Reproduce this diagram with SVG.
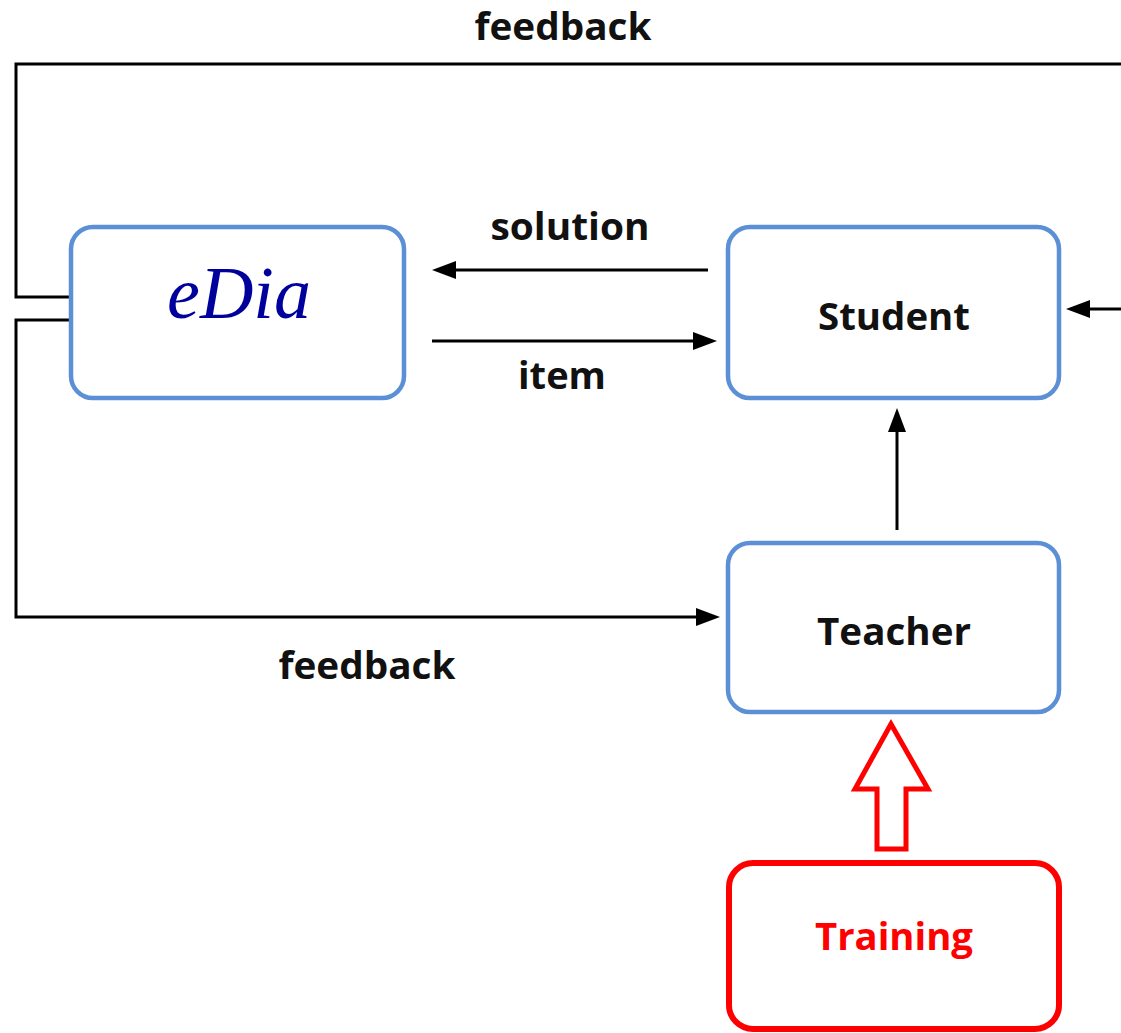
<svg xmlns="http://www.w3.org/2000/svg" width="1121" height="1033" viewBox="0 0 1121 1033">
<style>
.box{fill:#fff;stroke:#5B8FD6;stroke-width:4.5}
.lbl{font-family:"Open Sans","Liberation Sans",sans-serif;font-weight:bold;font-size:37px;fill:#111}
.ln{fill:none;stroke:#000;stroke-width:3}
</style>
<rect width="1121" height="1033" fill="#fff"/>
<g id="connectors">
<polyline class="ln" points="1121,64 16,64 16,297 71,297"/>
<polyline class="ln" points="71,320 16,320 16,617 696,617"/>
<path d="M696,608 L720,617 L696,626 Z"/>
<line class="ln" x1="708" y1="270" x2="452" y2="270"/>
<path d="M456,261 L432,270 L456,279 Z"/>
<line class="ln" x1="432" y1="341" x2="697" y2="341"/>
<path d="M693,332 L717,341 L693,350 Z"/>
<line class="ln" x1="1121" y1="309" x2="1086" y2="309"/>
<path d="M1090,300 L1066,309 L1090,318 Z"/>
<line class="ln" x1="897" y1="530" x2="897" y2="428"/>
<path d="M888,432 L897,408 L906,432 Z"/>
<path d="M891,724 L855,789 L877,789 L877,849 L906,849 L906,789 L928,789 Z" fill="#fff" stroke="#f00" stroke-width="5" stroke-linejoin="miter"/>
<text class="lbl" x="563" y="40" text-anchor="middle" textLength="177" lengthAdjust="spacingAndGlyphs">feedback</text>
<text class="lbl" x="570" y="240" text-anchor="middle" textLength="159" lengthAdjust="spacingAndGlyphs">solution</text>
<text class="lbl" x="562" y="389" text-anchor="middle" textLength="88" lengthAdjust="spacingAndGlyphs">item</text>
<text class="lbl" x="367" y="679" text-anchor="middle" textLength="177" lengthAdjust="spacingAndGlyphs">feedback</text>
</g>
<g id="eDia">
<rect class="box" x="71" y="227" width="333" height="171" rx="22"/>
<text x="239" y="318" text-anchor="middle" font-family="Liberation Serif,serif" font-style="italic" font-size="74" fill="#00009C">eDia</text>
</g>
<g id="student">
<rect class="box" x="728" y="227" width="331" height="171" rx="22"/>
<text class="lbl" x="894" y="330" text-anchor="middle" textLength="152" lengthAdjust="spacingAndGlyphs">Student</text>
</g>
<g id="teacher">
<rect class="box" x="728" y="543" width="331" height="169" rx="22"/>
<text class="lbl" x="894" y="645" text-anchor="middle" textLength="154" lengthAdjust="spacingAndGlyphs">Teacher</text>
</g>
<g id="training">
<rect x="729" y="863" width="330" height="166" rx="24" fill="#fff" stroke="#f00" stroke-width="6"/>
<text class="lbl" x="894" y="950" text-anchor="middle" textLength="158" lengthAdjust="spacingAndGlyphs" style="fill:#f00">Training</text>
</g>
</svg>
